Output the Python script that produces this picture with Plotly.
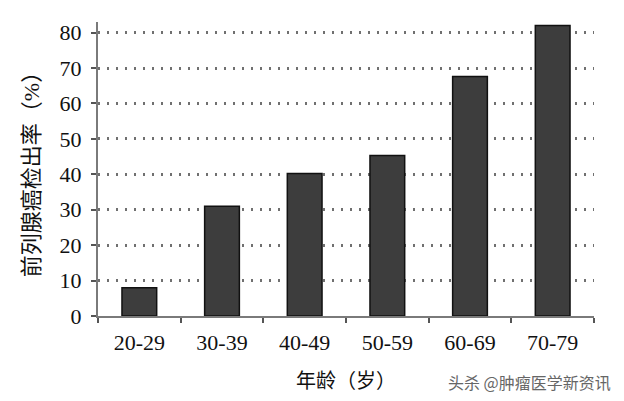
import plotly.graph_objs as go

AGE_GROUPS = ["20-29", "30-39", "40-49", "50-59", "60-69", "70-79"]
DETECTION_RATE = [8, 31, 40.2, 45.3, 67.6, 82]
Y_TICKS = [0, 10, 20, 30, 40, 50, 60, 70, 80]

SERIF = "Liberation Serif, Noto Sans CJK SC, serif"

fig = go.Figure()

fig.add_trace(go.Bar(
    x=AGE_GROUPS,
    y=DETECTION_RATE,
    marker=dict(color="#3d3d3d", line=dict(color="#111111", width=1.5)),
    width=0.42,
))

# page body has an 8px default margin, so the figure is a bit smaller
fig.update_layout(
    width=616,
    height=393,
    margin=dict(l=90, r=30, t=14, b=85),
    plot_bgcolor="white",
    paper_bgcolor="white",
    showlegend=False,
    font=dict(family=SERIF, size=22, color="#111111"),
    xaxis=dict(
        automargin=False,
        showline=True,
        linecolor="#7a7a7a",
        linewidth=2,
        ticks="outside",
        tickson="boundaries",
        ticklen=5,
        tickwidth=2,
        tickcolor="#555555",
        ticklabelstandoff=6,
        showgrid=False,
        title=dict(text="年龄（岁）", standoff=20,
                   font=dict(family=SERIF, size=20)),
    ),
    yaxis=dict(
        automargin=False,
        range=[0, 83],
        tickvals=Y_TICKS,
        showline=True,
        linecolor="#7a7a7a",
        linewidth=2,
        ticks="outside",
        ticklen=5,
        tickwidth=2,
        tickcolor="#555555",
        ticklabelstandoff=5,
        showgrid=True,
        gridcolor="#707070",
        griddash="2px,7px",
        gridwidth=2.5,
        zeroline=False,
        title=dict(text="前列腺癌检出率（%）", standoff=14,
                   font=dict(family=SERIF, size=22)),
    ),
)

fig.add_annotation(
    text="头杀 @肿瘤医学新资讯",
    xref="paper", yref="paper",
    x=1.038, y=-0.224,
    xanchor="right", yanchor="middle",
    showarrow=False,
    font=dict(family="Noto Sans CJK SC", size=16, color="#666666"),
)

fig.write_html("out.html")
